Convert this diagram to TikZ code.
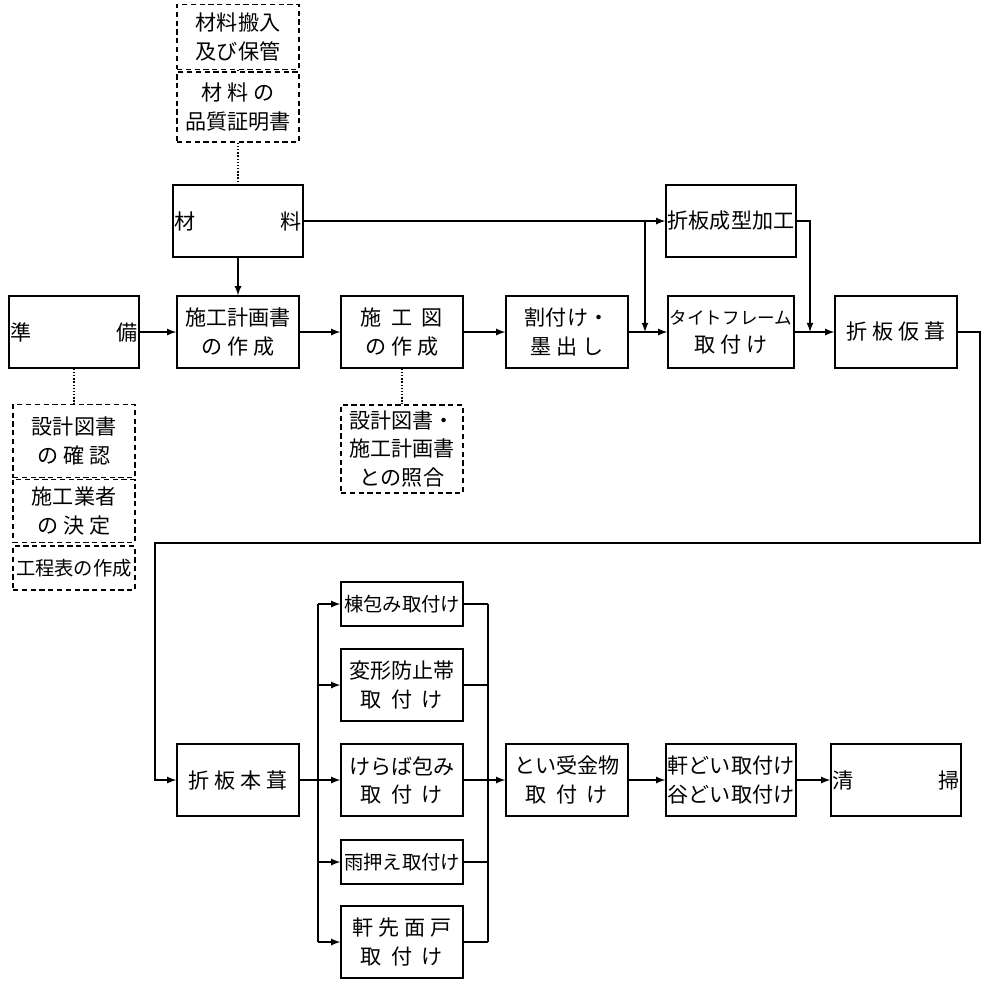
\documentclass[tikz,border=0pt]{standalone}
\usepackage{fontspec}
\newfontfamily\jp{Noto Sans CJK JP}
\usetikzlibrary{positioning}
\usetikzlibrary{calc}

\begin{document}
\begin{tikzpicture}[x=0.02cm,y=-0.02cm,
font=\jp\fontsize{12}{16}\selectfont,
box/.style={rectangle, draw=black, thick, minimum width=2.44cm, minimum height=1.44cm, align=center, inner sep=1pt},
lowbox/.style={box, minimum height=0.88cm},
notebox/.style={rectangle, draw=black, thick, densely dashed, minimum width=2.44cm, align=center, inner sep=1pt},
link/.style={thick, -latex},
dotline/.style={thick, densely dotted},
]
\useasboundingbox (0,0) rectangle (1000,988);
%Nodes
\node[notebox, minimum height=1.3cm] (carry) at (238,37) {材料搬入\\及び保管};
\node[notebox, minimum height=1.4cm] (cert) at (238,107) {材\ 料\ の\\品質証明書};
\node[box] (mat)    at (238,221) {材\hspace{4em}料};
\node[box] (prep)   at (74,332)  {準\hspace{4em}備};
\node[box] (plan)   at (238,332) {施工計画書\\の\ 作\ 成};
\node[box] (shop)   at (402,332) {施\ \ 工\ \ 図\\の\ 作\ 成};
\node[box] (mark)   at (567,332) {割付け・\\墨\ 出\ し};
\node[box] (frame)  at (731,332) {{\fontsize{10}{16}\selectfont タイトフレーム}\\取\ 付\ け};
\node[box] (temp)   at (896,332) {折\ 板\ 仮\ 葺};
\node[box] (form)   at (731,221) {折板成型加工};
\node[notebox, minimum height=1.46cm] (check) at (74,441) {設計図書\\の\ 確\ 認};
\node[notebox, minimum height=1.26cm] (firm)  at (74,511) {施工業者\\の\ 決\ 定};
\node[notebox, minimum height=0.88cm] (sched) at (74,568) {{\fontsize{11}{14}\selectfont 工程表の作成}};
\node[notebox, minimum height=1.76cm] (match) at (402,449) {設計図書・\\施工計画書\\との照合};
\node[box] (main)   at (238,780) {折\ 板\ 本\ 葺};
\node[lowbox] (ridge) at (402,604) {{\fontsize{11}{14}\selectfont 棟包み取付け}};
\node[box] (band)   at (402,685) {変形防止帯\\取\ \ 付\ \ け};
\node[box] (verge)  at (402,780) {けらば包み\\取\ \ 付\ \ け};
\node[lowbox] (flash) at (402,862) {{\fontsize{11}{14}\selectfont 雨押え取付け}};
\node[box] (eave)   at (402,942) {軒\ 先\ 面\ 戸\\取\ \ 付\ \ け};
\node[box] (gutter) at (567,780) {とい受金物\\取\ \ 付\ \ け};
\node[box] (pipe)   at (731,780) {軒どい取付け\\谷どい取付け};
\node[box] (clean)  at (896,780) {清\hspace{4em}掃};

%Lines
\draw[dotline] (carry.south) -- (cert.north);
\draw[dotline] (cert.south) -- (mat.north);
\draw[dotline] (prep.south) -- (check.north);
\draw[dotline] (shop.south) -- (match.north);
\draw[link] (mat.south) -- (plan.north);
\draw[link] (prep) -- (plan);
\draw[link] (plan) -- (shop);
\draw[link] (shop) -- (mark);
\draw[link] (mark) -- (frame);
\draw[link] (frame) -- (temp);
\draw[link] (mat) -- (form);
\draw[link] (645,221) -- (645,332);
\draw[link] (form.east) -- (810,221) -- (810,332);
\draw[link] (temp.east) -- (980,332) -- (980,543) -- (155,543) -- (155,780) -- (main.west);
\draw[thick] (main.east) -- (318,780);
\draw[thick] (318,604) -- (318,942);
\foreach \n/\y in {ridge/604, band/685, verge/780, flash/862, eave/942}{
  \draw[link] (318,\y) -- (\n.west);
  \draw[thick] (\n.east) -- (488,\y);
}
\draw[thick] (488,604) -- (488,942);
\draw[link] (488,780) -- (gutter.west);
\draw[link] (gutter) -- (pipe);
\draw[link] (pipe) -- (clean);
\end{tikzpicture}
\end{document}
